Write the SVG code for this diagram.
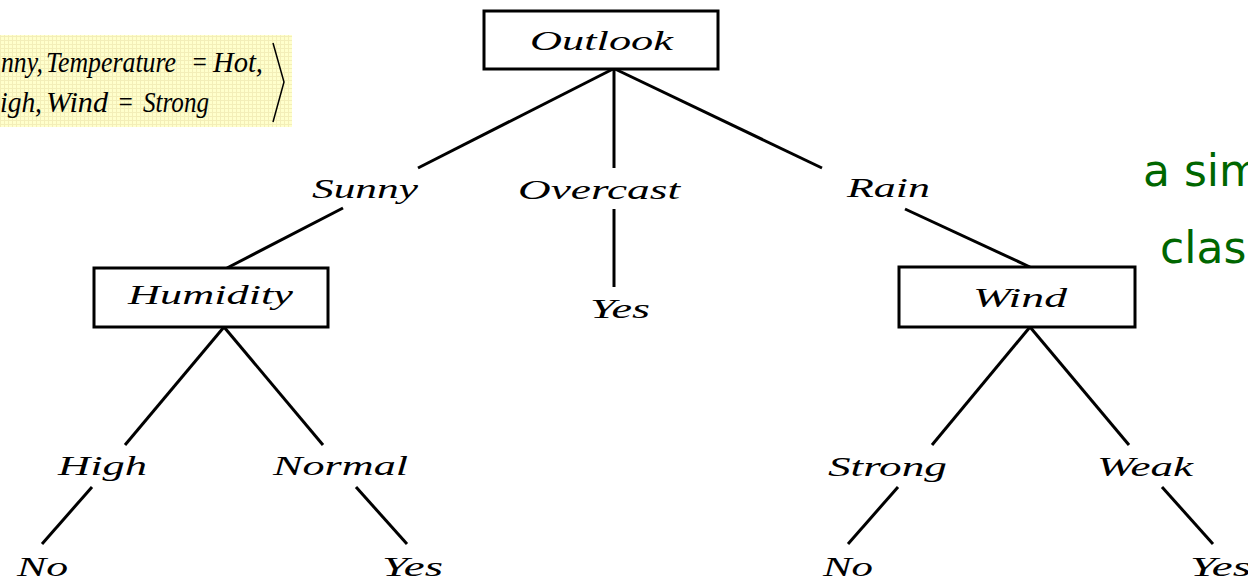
<svg xmlns="http://www.w3.org/2000/svg" width="1248" height="580" viewBox="0 0 1248 580">
  <defs>
    <style>
      .lbl { font-family: 'Liberation Serif', 'Times New Roman', serif; font-style: italic; font-size: 28px; fill: #000; }
      .box { fill: #fff; stroke: #000; stroke-width: 3; }
      .edge { stroke: #000; stroke-width: 3; fill: none; }
      .math { font-family: 'Liberation Serif', 'Times New Roman', serif; font-style: italic; font-size: 29px; fill: #000; }
      .note { font-family: 'DejaVu Sans', 'Noto Sans', sans-serif; font-size: 44px; fill: #006600; }
    </style>
    <pattern id="grid" width="4" height="4" patternUnits="userSpaceOnUse">
      <rect width="4" height="4" fill="#ffffcc"/>
      <path d="M0 0.5H4M0.5 0V4" stroke="#f3eeb8" stroke-width="1"/>
    </pattern>
  </defs>
  <rect width="1248" height="580" fill="#fff"/>

  <g id="example">
    <rect x="0" y="35" width="292" height="92" fill="url(#grid)"/>
    <text class="math" y="72"><tspan x="1" textLength="42" lengthAdjust="spacingAndGlyphs">nny,</tspan><tspan x="46" textLength="130" lengthAdjust="spacingAndGlyphs">Temperature</tspan><tspan x="191" textLength="17" lengthAdjust="spacingAndGlyphs">=</tspan><tspan x="213" textLength="50" lengthAdjust="spacingAndGlyphs">Hot,</tspan></text>
    <text class="math" y="112"><tspan x="0" textLength="42" lengthAdjust="spacingAndGlyphs">igh,</tspan><tspan x="46" textLength="62" lengthAdjust="spacingAndGlyphs">Wind</tspan><tspan x="117" textLength="17" lengthAdjust="spacingAndGlyphs">=</tspan><tspan x="143" textLength="66" lengthAdjust="spacingAndGlyphs">Strong</tspan></text>
    <polyline points="273,43 284,82 273,122" fill="none" stroke="#000" stroke-width="1.5"/>
  </g>

  <g id="connectors">
    <line class="edge" x1="613" y1="69" x2="418" y2="168"/>
    <line class="edge" x1="614" y1="69" x2="614" y2="168"/>
    <line class="edge" x1="615" y1="69" x2="822" y2="168"/>
    <line class="edge" x1="343" y1="208" x2="227" y2="268"/>
    <line class="edge" x1="614" y1="209" x2="614" y2="287"/>
    <line class="edge" x1="905" y1="209" x2="1030" y2="267"/>
    <line class="edge" x1="224" y1="327" x2="125" y2="445"/>
    <line class="edge" x1="224" y1="327" x2="323" y2="445"/>
    <line class="edge" x1="92" y1="487" x2="42" y2="544"/>
    <line class="edge" x1="356" y1="487" x2="407" y2="544"/>
    <line class="edge" x1="1030" y1="327" x2="932" y2="445"/>
    <line class="edge" x1="1030" y1="327" x2="1129" y2="445"/>
    <line class="edge" x1="898" y1="487" x2="848" y2="544"/>
    <line class="edge" x1="1162" y1="487" x2="1213" y2="544"/>
  </g>

  <g id="outlook">
    <rect class="box" x="484" y="11" width="234" height="58"/>
    <text class="lbl" x="530" y="50" font-size="30" textLength="143" lengthAdjust="spacingAndGlyphs">Outlook</text>
  </g>
  <g id="sunny"><text class="lbl" x="312" y="198" textLength="106" lengthAdjust="spacingAndGlyphs">Sunny</text></g>
  <g id="overcast"><text class="lbl" x="518" y="199" textLength="162" lengthAdjust="spacingAndGlyphs">Overcast</text></g>
  <g id="rain"><text class="lbl" x="847" y="197" textLength="83" lengthAdjust="spacingAndGlyphs">Rain</text></g>

  <g id="humidity">
    <rect class="box" x="94" y="268" width="234" height="59"/>
    <text class="lbl" x="128" y="304" textLength="165" lengthAdjust="spacingAndGlyphs">Humidity</text>
  </g>
  <g id="yes-overcast"><text class="lbl" x="590" y="318" textLength="60" lengthAdjust="spacingAndGlyphs">Yes</text></g>
  <g id="wind">
    <rect class="box" x="899" y="267" width="236" height="60"/>
    <text class="lbl" x="973" y="307" textLength="94" lengthAdjust="spacingAndGlyphs">Wind</text>
  </g>

  <g id="high"><text class="lbl" x="58" y="475" textLength="89" lengthAdjust="spacingAndGlyphs">High</text></g>
  <g id="normal"><text class="lbl" x="273" y="475" textLength="135" lengthAdjust="spacingAndGlyphs">Normal</text></g>
  <g id="strong"><text class="lbl" x="828" y="476" textLength="119" lengthAdjust="spacingAndGlyphs">Strong</text></g>
  <g id="weak"><text class="lbl" x="1097" y="476" textLength="96" lengthAdjust="spacingAndGlyphs">Weak</text></g>

  <g id="no-high"><text class="lbl" x="17" y="576" textLength="51" lengthAdjust="spacingAndGlyphs">No</text></g>
  <g id="yes-normal"><text class="lbl" x="382" y="576" textLength="61" lengthAdjust="spacingAndGlyphs">Yes</text></g>
  <g id="no-strong"><text class="lbl" x="823" y="576" textLength="50" lengthAdjust="spacingAndGlyphs">No</text></g>
  <g id="yes-weak"><text class="lbl" x="1190" y="576" textLength="61" lengthAdjust="spacingAndGlyphs">Yes</text></g>

  <g id="note">
    <text class="note" x="1143" y="186">a sim</text>
    <text class="note" x="1160" y="263">clas</text>
  </g>
</svg>
